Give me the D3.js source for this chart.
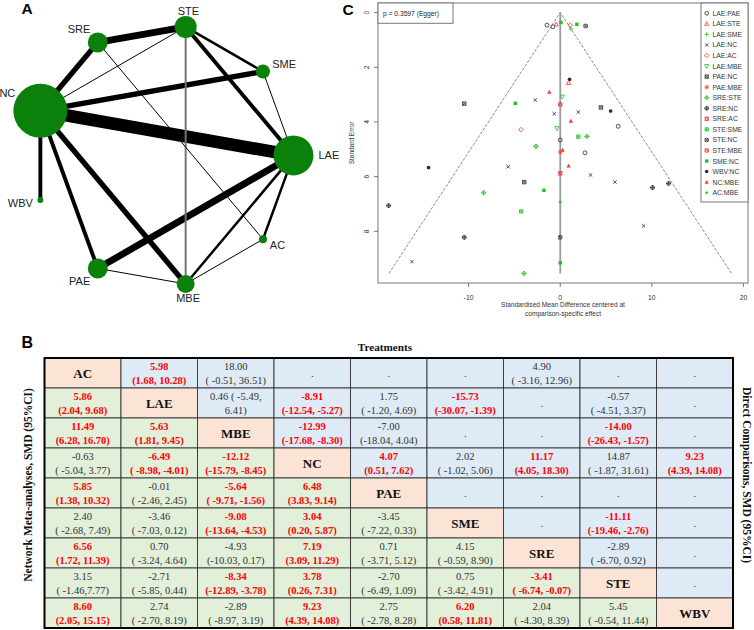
<!DOCTYPE html>
<html><head><meta charset="utf-8">
<script src="https://cdn.jsdelivr.net/npm/d3@7"></script>
<style>body{margin:0;background:#fff}svg{display:block}</style>
</head><body><svg id="c" width="754" height="630"></svg>
<script>
// ================= DATA =================
// Panel A: network (nodes in circular order, starting at 3 o'clock, clockwise)
const netNodes = ["LAE","AC","MBE","PAE","WBV","NC","SRE","STE","SME"];
const netNodeWeight = [400,16,81,100,9,730,100,121,49];
const netEdgeFrom = ["NC","LAE","SRE","SRE","NC","NC","NC","NC","LAE","LAE","LAE","STE","STE","STE","SRE","SME","AC","PAE"];
const netEdgeTo   = ["LAE","PAE","STE","NC","SME","MBE","PAE","WBV","STE","AC","MBE","SME","MBE","NC","AC","LAE","MBE","MBE"];
const netEdgeStudies = [9,5,5,4,4,4,3,3,3,2,2,2,2,1,1,1,1,1];

// Panel C: comparison-adjusted funnel plot
const funnelComparisons = ["LAE:PAE","LAE:STE","LAE:SME","LAE:NC","LAE:AC","LAE:MBE","PAE:NC","PAE:MBE","SRE:STE","SRE:NC","SRE:AC","STE:SME","STE:NC","STE:MBE","SME:NC","WBV:NC","NC:MBE","AC:MBE"];
const funnelPointComp = ["LAE:PAE","LAE:PAE","LAE:STE","SME:NC","LAE:AC","SME:NC","STE:NC","LAE:SME","WBV:NC","LAE:STE","NC:MBE","LAE:MBE","SME:NC","LAE:NC","STE:MBE","PAE:NC","LAE:NC","LAE:NC","WBV:NC","NC:MBE","LAE:PAE","LAE:AC","LAE:MBE","STE:SME","SRE:STE","LAE:PAE","SRE:STE","NC:MBE","PAE:MBE","LAE:PAE","LAE:NC","NC:MBE","SRE:AC","LAE:NC","LAE:NC","PAE:NC","SME:NC","AC:MBE","STE:SME","STE:NC","SME:NC","SRE:STE","PAE:NC","WBV:NC","SRE:STE","SRE:NC","SRE:NC","LAE:NC","SRE:NC","SRE:NC","LAE:NC"];
const funnelSMD = [-1.45,-0.8,-0.44,0.07,1.09,1.82,2.77,1.16,1.02,0.91,-1.2,0.22,-4.91,-2.73,0,4.44,1.97,-0.66,5.5,1.16,6.33,-4.29,-0.36,1.97,2.91,0,-2.65,0.25,0,2.7,-5.68,0.91,0,3.31,5.97,-3.93,-1.78,0,-4.26,0,0,-3.96,-10.48,-14.38,-8.37,-18.74,-10.48,-16.2,10.08,11.83,9.1];
const funnelSE  = [0.46,0.52,0.43,0.36,0.46,0.43,0.49,0.6,2.44,2.57,2.91,3.08,3.32,3.2,3.36,3.47,3.64,3.7,3.6,3.97,4.16,4.28,4.23,4.54,4.53,4.66,4.89,5.03,5.1,5.13,5.64,5.61,5.88,5.94,6.2,6.2,6.5,6.93,7.27,8.22,9.15,9.54,3.33,5.67,6.59,7.06,8.22,9.11,6.4,6.25,7.8];
const funnelXTicks = [-10,0,10,20];
const funnelYTicks = [0,2,4,6,8];
const eggerText = "p = 0.3597 (Egger)";

// Panel B: league table
const treatments = ["AC","LAE","MBE","NC","PAE","SME","SRE","STE","WBV"];
const cellEst = [
 ["", "5.98","18.00",".",".",".","4.90",".","."],
 ["5.86","","0.46 ( -5.49,","-8.91","1.75","-15.73",".","-0.57","."],
 ["11.49","5.63","","-12.99","-7.00",".",".","-14.00","."],
 ["-0.63","-6.49","-12.12","","4.07","2.02","11.17","14.87","9.23"],
 ["5.85","-0.01","-5.64","6.48","",".",".",".","."],
 ["2.40","-3.46","-9.08","3.04","-3.45","",".","-11.11","."],
 ["6.56","0.70","-4.93","7.19","0.71","4.15","","-2.89","."],
 ["3.15","-2.71","-8.34","3.78","-2.70","0.75","-3.41","","."],
 ["8.60","2.74","-2.89","9.23","2.75","6.20","2.04","5.45",""]
];
const cellCI = [
 ["","(1.68, 10.28)","( -0.51, 36.51)","","","","( -3.16, 12.96)","",""],
 ["(2.04, 9.68)","","6.41)","(-12.54, -5.27)","( -1.20, 4.69)","(-30.07, -1.39)","","( -4.51, 3.37)",""],
 ["(6.28, 16.70)","(1.81, 9.45)","","(-17.68, -8.30)","(-18.04, 4.04)","","","(-26.43, -1.57)",""],
 ["( -5.04, 3.77)","( -8.98, -4.01)","(-15.79, -8.45)","","(0.51, 7.62)","( -1.02, 5.06)","(4.05, 18.30)","( -1.87, 31.61)","(4.39, 14.08)"],
 ["(1.38, 10.32)","( -2.46, 2.45)","( -9.71, -1.56)","(3.83, 9.14)","","","","",""],
 ["( -2.68, 7.49)","( -7.03, 0.12)","(-13.64, -4.53)","(0.20, 5.87)","( -7.22, 0.33)","","","(-19.46, -2.76)",""],
 ["(1.72, 11.39)","( -3.24, 4.64)","(-10.03, 0.17)","(3.09, 11.29)","( -3.71, 5.12)","( -0.59, 8.90)","","( -6.70, 0.92)",""],
 ["( -1.46,7.77)","( -5.85, 0.44)","(-12.89, -3.78)","(0.26, 7.31)","( -6.49, 1.09)","( -3.42, 4.91)","( -6.74, -0.07)","",""],
 ["(2.05, 15.15)","( -2.70, 8.19)","( -8.97, 3.19)","(4.39, 14.08)","( -2.78, 8.28)","(0.58, 11.81)","( -4.30, 8.39)","( -0.54, 11.44)",""]
];
const cellSig = [
 [0,1,0,0,0,0,0,0,0],
 [1,0,0,1,0,1,0,0,0],
 [1,1,0,1,0,0,0,1,0],
 [0,1,1,0,1,0,1,0,1],
 [1,0,1,1,0,0,0,0,0],
 [0,0,1,1,0,0,0,1,0],
 [1,0,0,1,0,0,0,0,0],
 [0,0,1,1,0,0,1,0,0],
 [1,0,0,1,0,1,0,0,0]
];

// ================= DRAW =================
const SANS = "'Liberation Sans', Arial, sans-serif";
const SERIF = "'Liberation Serif', 'Times New Roman', serif";
const svg = d3.select("#c");
svg.append("rect").attr("width",754).attr("height",630).attr("fill","#fff");

// ---------- Panel A ----------
const gA = svg.append("g");
gA.append("text").attr("x",21.5).attr("y",14.3).text("A")
  .attr("font-family",SANS).attr("font-weight","bold").attr("font-size",15.5);
const ctr = {x:163, y:155.4}, Rad = 130.5;
const angle = d3.scaleLinear().domain([0, netNodes.length]).range([0, 2*Math.PI]);
const rScale = d3.scaleSqrt().domain([0, d3.max(netNodeWeight)]).range([0, 27]);
const wScale = d3.scaleLinear().domain([1, d3.max(netEdgeStudies)]).range([1, 12.6]);
const pos = {};
netNodes.forEach((n,i)=>{ const a=angle(i); pos[n]={x:ctr.x+Rad*Math.cos(a), y:ctr.y+Rad*Math.sin(a), a, r:rScale(netNodeWeight[i])}; });
const grayEdges = new Set(["STE:MBE"]);
netEdgeFrom.forEach((f,i)=>{
  const t = netEdgeTo[i];
  gA.append("line").attr("x1",pos[f].x).attr("y1",pos[f].y).attr("x2",pos[t].x).attr("y2",pos[t].y)
    .attr("stroke", grayEdges.has(f+":"+t) ? "#747474" : "#000")
    .attr("stroke-width", grayEdges.has(f+":"+t) ? 2 : wScale(netEdgeStudies[i]));
});
const labelNudge = {NC:[5,-7]};
netNodes.forEach(n=>{
  const p=pos[n];
  gA.append("circle").attr("cx",p.x).attr("cy",p.y).attr("r",p.r).attr("fill","#0b800b");
  const c=Math.cos(p.a), s=Math.sin(p.a), d=p.r+5;
  const nd = labelNudge[n] || [0,0];
  gA.append("text").attr("x",p.x+c*d+nd[0]).attr("y",p.y+s*d+nd[1]).text(n)
    .attr("text-anchor", c>0.3?"start":(c<-0.3?"end":"middle"))
    .attr("dominant-baseline","central")
    .attr("font-family",SANS).attr("font-size",11).attr("fill","#222");
});

// ---------- Panel C ----------
const gC = svg.append("g");
gC.append("text").attr("x",342.5).attr("y",15).text("C")
  .attr("font-family",SANS).attr("font-weight","bold").attr("font-size",15.5);
const box = {l:378, t:3, r:748, b:283};
const xS = d3.scaleLinear().domain([-19.9, 20.5]).range([box.l, box.r]);
const yS = d3.scaleLinear().domain([-0.35, 9.89]).range([box.t, box.b]);
const seMax = d3.max(funnelSE);
gC.append("path").attr("d", `M${xS(-1.96*seMax)},${yS(seMax)} L${xS(0)},${yS(0)} L${xS(1.96*seMax)},${yS(seMax)}`)
  .attr("fill","none").attr("stroke","#555").attr("stroke-width",0.7).attr("stroke-dasharray","3,1.5");
gC.append("line").attr("x1",xS(0)).attr("x2",xS(0)).attr("y1",yS(0)).attr("y2",yS(seMax))
  .attr("stroke","#9a9a9a").attr("stroke-width",1.8);

const palette = ["#2a2a2a","#f03a3a","#22c022"];
function sym(g, pch, cx, cy, col, s){
  const G = g.append("g").attr("transform",`translate(${cx},${cy})`);
  const st = el => el.attr("fill","none").attr("stroke",col).attr("stroke-width",0.8);
  const P = d => st(G.append("path").attr("d",d));
  const k=s*0.75;
  const plus=`M${-s},0H${s}M0,${-s}V${s}`, cross=`M${-k},${-k}L${k},${k}M${-k},${k}L${k},${-k}`;
  const sq=`M${-k},${-k}H${k}V${k}H${-k}Z`, dia=`M0,${-s}L${s},0L0,${s}L${-s},0Z`;
  const tri=`M0,${-s}L${s*0.95},${s*0.7}L${-s*0.95},${s*0.7}Z`, dtri=`M0,${s}L${s*0.95},${-s*0.7}L${-s*0.95},${-s*0.7}Z`;
  switch(pch){
    case 1: st(G.append("circle").attr("r",s*0.85)); break;
    case 2: P(tri); break;
    case 3: P(plus); break;
    case 4: P(cross); break;
    case 5: P(dia); break;
    case 6: P(dtri); break;
    case 7: P(sq+cross); break;
    case 8: P(plus+cross); break;
    case 9: P(dia+plus); break;
    case 10: st(G.append("circle").attr("r",s*0.85)); P(plus); break;
    case 11: P(tri+dtri); break;
    case 12: P(sq+`M${-k},0H${k}M0,${-k}V${k}`); break;
    case 13: st(G.append("circle").attr("r",s*0.85)); P(cross); break;
    case 14: P(sq+`M${-k},${k}L0,${-k}L${k},${k}`); break;
    case 15: G.append("path").attr("d",sq).attr("fill",col); break;
    case 16: G.append("circle").attr("r",s*0.8).attr("fill",col); break;
    case 17: G.append("path").attr("d",tri).attr("fill",col); break;
    case 18: G.append("path").attr("d",`M0,${-k}L${k},0L0,${k}L${-k},0Z`).attr("fill",col); break;
  }
}
funnelPointComp.forEach((c,i)=>{
  const idx = funnelComparisons.indexOf(c);
  sym(gC, idx+1, xS(funnelSMD[i]), yS(funnelSE[i]), palette[idx%3], 2.3);
});
gC.append("rect").attr("x",box.l).attr("y",box.t).attr("width",box.r-box.l).attr("height",box.b-box.t)
  .attr("fill","none").attr("stroke","#777").attr("stroke-width",1);
funnelXTicks.forEach(t=>{
  gC.append("line").attr("x1",xS(t)).attr("x2",xS(t)).attr("y1",box.b).attr("y2",box.b+4).attr("stroke","#777");
  gC.append("text").attr("x",xS(t)).attr("y",297).text(t).attr("text-anchor","middle").attr("dominant-baseline","central")
    .attr("font-family",SANS).attr("font-size",6.8).attr("fill","#333");
});
gC.append("text").attr("x",563).attr("y",304.5).text("Standardised Mean Difference centered at")
  .attr("text-anchor","middle").attr("dominant-baseline","central").attr("font-family",SANS).attr("font-size",6.6).attr("fill","#333");
gC.append("text").attr("x",563).attr("y",313).text("comparison-specific effect")
  .attr("text-anchor","middle").attr("dominant-baseline","central").attr("font-family",SANS).attr("font-size",6.6).attr("fill","#333");
funnelYTicks.forEach(t=>{
  gC.append("line").attr("x1",box.l-4).attr("x2",box.l).attr("y1",yS(t)).attr("y2",yS(t)).attr("stroke","#777");
  gC.append("text").attr("x",367).attr("y",yS(t)).text(t).attr("text-anchor","middle").attr("dominant-baseline","central")
    .attr("transform",`rotate(-90,367,${yS(t)})`).attr("font-family",SANS).attr("font-size",6.8).attr("fill","#333");
});
gC.append("text").attr("x",351).attr("y",143).text("Standard Error").attr("text-anchor","middle").attr("dominant-baseline","central")
  .attr("transform","rotate(-90,351,143)").attr("font-family",SANS).attr("font-size",6.5).attr("fill","#333");
gC.append("rect").attr("x",box.l).attr("y",box.t).attr("width",75).attr("height",20.3).attr("fill","#fff").attr("stroke","#777");
gC.append("text").attr("x",383).attr("y",13.5).text(eggerText).attr("dominant-baseline","central")
  .attr("font-family",SANS).attr("font-size",6.7).attr("fill","#222");
gC.append("rect").attr("x",701).attr("y",box.t).attr("width",47).attr("height",199).attr("fill","#fff").attr("stroke","#777");
const ly = d3.scaleLinear().domain([0, funnelComparisons.length-1]).range([13.3, 192.7]);
funnelComparisons.forEach((c,i)=>{
  sym(gC, i+1, 706.7, ly(i), palette[i%3], 2.2);
  gC.append("text").attr("x",712.5).attr("y",ly(i)).text(c).attr("dominant-baseline","central")
    .attr("font-family",SANS).attr("font-size",6.8).attr("fill","#333");
});

// ---------- Panel B ----------
const gB = svg.append("g");
gB.append("text").attr("x",21.5).attr("y",348).text("B")
  .attr("font-family",SANS).attr("font-weight","bold").attr("font-size",16);
gB.append("text").attr("x",385).attr("y",351).text("Treatments").attr("text-anchor","middle")
  .attr("font-family",SERIF).attr("font-weight","bold").attr("font-size",11.2).attr("fill","#111");
const colS = d3.scaleBand().domain(d3.range(treatments.length)).range([44.5, 733]);
const rowS = d3.scaleBand().domain(d3.range(treatments.length)).range([358, 628]);
const cw = colS.bandwidth(), rh = rowS.bandwidth();
treatments.forEach((tr,i)=>{
  treatments.forEach((_,j)=>{
    const x=colS(j), y=rowS(i);
    const fill = i===j ? "#fbe4d5" : (j>i ? "#deebf7" : "#e2efd9");
    gB.append("rect").attr("x",x).attr("y",y).attr("width",cw).attr("height",rh)
      .attr("fill",fill).attr("stroke","#333").attr("stroke-width",0.9);
    const cxm = x+cw/2;
    if(i===j){
      gB.append("text").attr("x",cxm).attr("y",y+rh/2+0.5).text(tr).attr("text-anchor","middle").attr("dominant-baseline","central")
        .attr("font-family",SERIF).attr("font-weight","bold").attr("font-size",13).attr("fill","#111");
      return;
    }
    const sig = cellSig[i][j]===1;
    const col = sig ? "#ff0000" : "#333";
    const fw = sig ? "bold" : "normal";
    if(cellCI[i][j]===""){
      gB.append("text").attr("x",cxm).attr("y",y+rh/2).text(cellEst[i][j]).attr("text-anchor","middle").attr("dominant-baseline","central")
        .attr("font-family",SERIF).attr("font-size",10.5).attr("fill",col);
    } else {
      gB.append("text").attr("x",cxm).attr("y",y+8.5).text(cellEst[i][j]).attr("text-anchor","middle").attr("dominant-baseline","central")
        .attr("font-family",SERIF).attr("font-weight",fw).attr("font-size",10.5).attr("fill",col).style("white-space","pre");
      gB.append("text").attr("x",cxm).attr("y",y+22.5).text(cellCI[i][j]).attr("text-anchor","middle").attr("dominant-baseline","central")
        .attr("font-family",SERIF).attr("font-weight",fw).attr("font-size",10.5).attr("fill",col).style("white-space","pre");
    }
  });
});
gB.append("rect").attr("x",44.5).attr("y",358).attr("width",733-44.5).attr("height",270)
  .attr("fill","none").attr("stroke","#000").attr("stroke-width",2);
gB.append("text").attr("x",27.5).attr("y",485).text("Network Meta-analyses, SMD (95%CI)")
  .attr("text-anchor","middle").attr("dominant-baseline","central").attr("transform","rotate(-90,27.5,485)")
  .attr("font-family",SERIF).attr("font-weight","bold").attr("font-size",11.5).attr("fill","#111");
gB.append("text").attr("x",746.5).attr("y",475).text("Direct Comparisons, SMD (95%CI)")
  .attr("text-anchor","middle").attr("dominant-baseline","central").attr("transform","rotate(90,746.5,475)")
  .attr("font-family",SERIF).attr("font-weight","bold").attr("font-size",11.5).attr("fill","#111");
</script></body></html>
